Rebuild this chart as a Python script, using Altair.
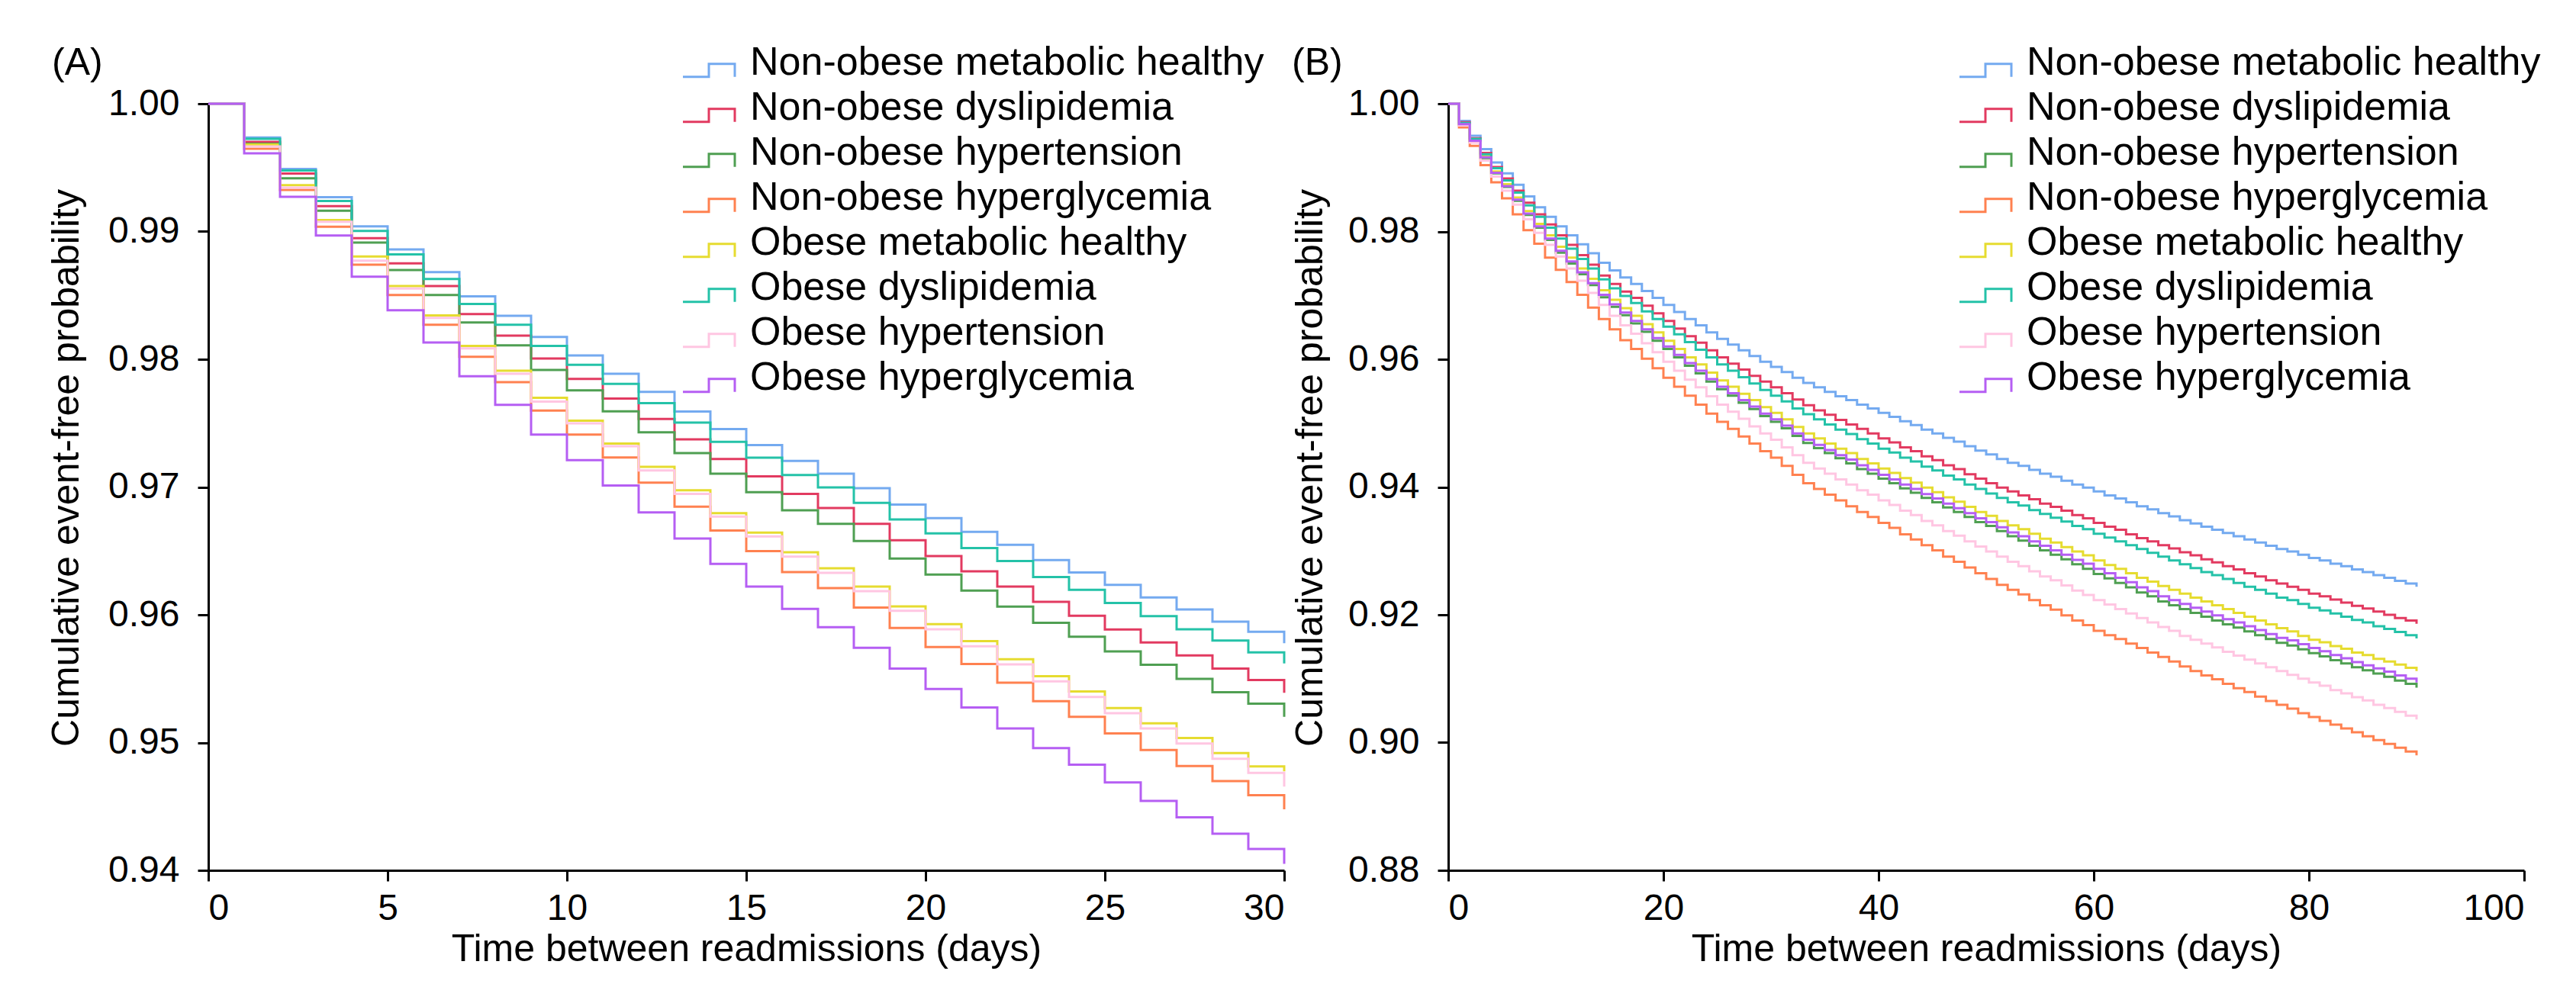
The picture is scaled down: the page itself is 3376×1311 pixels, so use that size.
import altair as alt
import pandas as pd

groups = [
    "Non-obese metabolic healthy",
    "Non-obese dyslipidemia",
    "Non-obese hypertension",
    "Non-obese hyperglycemia",
    "Obese metabolic healthy",
    "Obese dyslipidemia",
    "Obese hypertension",
    "Obese hyperglycemia",
]
colors = ["#74aaf0", "#e23a60", "#4f9f52", "#ff8150", "#e6dc30", "#24c2a8", "#ffc6e2", "#b55ef3"]

# ---------------- Panel A: 30-day follow-up (daily steps) ----------------
days_a = list(range(31))
a_nonobese_healthy = [1.0, 0.99736, 0.99490, 0.99268, 0.99040, 0.98859, 0.98682, 0.98493, 0.98340, 0.98175,
                      0.98030, 0.97887, 0.97745, 0.97591, 0.97454, 0.97329, 0.97204, 0.97104, 0.96991, 0.96862,
                      0.96756, 0.96650, 0.96548, 0.96428, 0.96331, 0.96235, 0.96136, 0.96042, 0.95947, 0.95867,
                      0.95778]
a_nonobese_dyslipidemia = [1.0, 0.99702, 0.99453, 0.99199, 0.98948, 0.98751, 0.98573, 0.98354, 0.98185, 0.98006,
                           0.97847, 0.97692, 0.97533, 0.97373, 0.97220, 0.97084, 0.96947, 0.96836, 0.96712, 0.96583,
                           0.96460, 0.96340, 0.96221, 0.96102, 0.95992, 0.95885, 0.95784, 0.95682, 0.95579, 0.95489,
                           0.95390]
a_nonobese_hypertension = [1.0, 0.99686, 0.99416, 0.99163, 0.98913, 0.98698, 0.98503, 0.98288, 0.98109, 0.97917,
                           0.97757, 0.97592, 0.97428, 0.97265, 0.97104, 0.96959, 0.96818, 0.96712, 0.96577, 0.96440,
                           0.96315, 0.96189, 0.96064, 0.95937, 0.95829, 0.95714, 0.95609, 0.95499, 0.95394, 0.95304,
                           0.95201]
a_nonobese_hyperglycemia = [1.0, 0.99648, 0.99326, 0.99038, 0.98741, 0.98503, 0.98270, 0.98020, 0.97821, 0.97598,
                            0.97410, 0.97231, 0.97035, 0.96846, 0.96659, 0.96498, 0.96335, 0.96209, 0.96056, 0.95897,
                            0.95748, 0.95615, 0.95469, 0.95324, 0.95201, 0.95072, 0.94942, 0.94817, 0.94698, 0.94588,
                            0.94477]
a_obese_healthy = [1.0, 0.99680, 0.99362, 0.99089, 0.98805, 0.98573, 0.98344, 0.98105, 0.97910, 0.97698,
                   0.97519, 0.97340, 0.97158, 0.96975, 0.96796, 0.96643, 0.96490, 0.96364, 0.96221, 0.96066,
                   0.95927, 0.95794, 0.95652, 0.95519, 0.95400, 0.95270, 0.95151, 0.95036, 0.94918, 0.94813,
                   0.94774]
a_obese_dyslipidemia = [1.0, 0.99726, 0.99477, 0.99239, 0.99004, 0.98821, 0.98628, 0.98433, 0.98270, 0.98105,
                        0.97956, 0.97807, 0.97657, 0.97504, 0.97353, 0.97230, 0.97094, 0.96997, 0.96876, 0.96746,
                        0.96637, 0.96523, 0.96421, 0.96295, 0.96195, 0.96092, 0.95990, 0.95887, 0.95798, 0.95706,
                        0.95619]
a_obese_hypertension = [1.0, 0.99666, 0.99344, 0.99076, 0.98771, 0.98553, 0.98324, 0.98085, 0.97887, 0.97668,
                        0.97499, 0.97320, 0.97130, 0.96947, 0.96768, 0.96613, 0.96455, 0.96328, 0.96185, 0.96032,
                        0.95887, 0.95754, 0.95612, 0.95479, 0.95356, 0.95230, 0.95111, 0.94992, 0.94873, 0.94763,
                        0.94655]
a_obese_hyperglycemia = [1.0, 0.99612, 0.99272, 0.98968, 0.98646, 0.98384, 0.98131, 0.97867, 0.97644, 0.97410,
                         0.97211, 0.97012, 0.96802, 0.96597, 0.96398, 0.96221, 0.96046, 0.95903, 0.95742, 0.95579,
                         0.95420, 0.95274, 0.95111, 0.94956, 0.94827, 0.94688, 0.94544, 0.94415, 0.94286, 0.94167,
                         0.94051]

# ---------------- Panel B: 90-day follow-up (daily steps) ----------------
days_b = list(range(91))
b_nonobese_healthy = [1.0000, .9973, .9950, .9929, .9908, .9891, .9873, .9855, .9838, .9823,
                      .9808, .9794, .9780, .9766, .9751, .9739, .9728, .9718, .9707, .9696,
                      .9685, .9674, .9663, .9653, .9642, .9632, .9623, .9614, .9605, .9596,
                      .9588, .9580, .9571, .9563, .9556, .9549, .9542, .9536, .9529, .9523,
                      .9516, .9510, .9503, .9497, .9490, .9484, .9477, .9471, .9464, .9457,
                      .9451, .9444, .9438, .9433, .9427, .9421, .9416, .9410, .9404, .9399,
                      .9393, .9387, .9382, .9376, .9370, .9365, .9359, .9354, .9348, .9343,
                      .9338, .9333, .9328, .9323, .9318, .9313, .9308, .9303, .9299, .9294,
                      .9289, .9285, .9280, .9276, .9271, .9267, .9262, .9258, .9253, .9249,
                      .9244]
b_nonobese_dyslipidemia = [1.0000, .9971, .9946, .9923, .9901, .9883, .9864, .9845, .9827, .9811,
                           .9794, .9779, .9763, .9748, .9731, .9718, .9706, .9696, .9684, .9672,
                           .9660, .9648, .9636, .9626, .9614, .9603, .9593, .9584, .9574, .9565,
                           .9556, .9547, .9537, .9528, .9520, .9513, .9505, .9498, .9491, .9484,
                           .9476, .9470, .9462, .9456, .9448, .9442, .9434, .9428, .9420, .9413,
                           .9406, .9399, .9393, .9387, .9381, .9374, .9369, .9363, .9356, .9351,
                           .9344, .9338, .9333, .9326, .9320, .9315, .9309, .9304, .9298, .9293,
                           .9287, .9282, .9276, .9271, .9265, .9260, .9254, .9249, .9244, .9239,
                           .9233, .9229, .9224, .9219, .9214, .9210, .9205, .9200, .9195, .9191,
                           .9186]
b_nonobese_hypertension = [1.0000, .9968, .9941, .9915, .9891, .9870, .9848, .9826, .9806, .9787,
                           .9767, .9750, .9733, .9716, .9697, .9682, .9669, .9656, .9643, .9629,
                           .9616, .9603, .9590, .9578, .9565, .9553, .9543, .9532, .9522, .9511,
                           .9502, .9492, .9480, .9469, .9461, .9453, .9445, .9437, .9428, .9421,
                           .9413, .9406, .9398, .9391, .9383, .9376, .9368, .9361, .9353, .9345,
                           .9339, .9331, .9323, .9316, .9308, .9301, .9294, .9287, .9279, .9272,
                           .9264, .9257, .9250, .9243, .9235, .9229, .9221, .9215, .9209, .9203,
                           .9197, .9191, .9185, .9180, .9174, .9168, .9162, .9156, .9152, .9146,
                           .9140, .9135, .9129, .9124, .9118, .9113, .9108, .9103, .9097, .9092,
                           .9086]
b_nonobese_hyperglycemia = [1.0000, .9963, .9934, .9904, .9877, .9852, .9827, .9802, .9781, .9759,
                            .9740, .9721, .9701, .9681, .9663, .9647, .9630, .9616, .9601, .9586,
                            .9571, .9557, .9543, .9529, .9515, .9502, .9491, .9479, .9468, .9456,
                            .9446, .9433, .9419, .9406, .9397, .9388, .9379, .9370, .9361, .9353,
                            .9344, .9336, .9326, .9318, .9309, .9301, .9291, .9283, .9274, .9265,
                            .9256, .9247, .9239, .9232, .9223, .9215, .9208, .9199, .9191, .9184,
                            .9175, .9168, .9162, .9155, .9148, .9141, .9134, .9127, .9119, .9112,
                            .9105, .9099, .9092, .9085, .9079, .9072, .9065, .9059, .9053, .9046,
                            .9040, .9034, .9028, .9022, .9016, .9010, .9004, .8998, .8992, .8986,
                            .8980]
b_obese_healthy = [1.0000, .9969, .9943, .9918, .9894, .9874, .9853, .9832, .9812, .9794,
                   .9776, .9759, .9742, .9726, .9708, .9693, .9680, .9668, .9655, .9642,
                   .9629, .9616, .9603, .9592, .9579, .9567, .9557, .9546, .9536, .9525,
                   .9516, .9506, .9494, .9484, .9476, .9468, .9460, .9453, .9444, .9437,
                   .9429, .9422, .9414, .9407, .9399, .9392, .9384, .9377, .9369, .9361,
                   .9355, .9347, .9340, .9334, .9327, .9319, .9313, .9306, .9299, .9293,
                   .9285, .9278, .9272, .9265, .9258, .9252, .9245, .9239, .9233, .9227,
                   .9221, .9215, .9209, .9203, .9197, .9191, .9185, .9179, .9174, .9167,
                   .9161, .9157, .9151, .9147, .9141, .9137, .9131, .9127, .9122, .9117,
                   .9112]
b_obese_dyslipidemia = [1.0000, .9970, .9945, .9921, .9899, .9880, .9861, .9841, .9823, .9806,
                        .9789, .9773, .9757, .9742, .9725, .9711, .9699, .9688, .9675, .9663,
                        .9651, .9639, .9627, .9615, .9603, .9592, .9582, .9572, .9562, .9552,
                        .9543, .9534, .9523, .9514, .9506, .9498, .9490, .9483, .9475, .9468,
                        .9460, .9454, .9446, .9440, .9432, .9426, .9418, .9412, .9404, .9397,
                        .9390, .9383, .9376, .9371, .9364, .9358, .9352, .9346, .9339, .9334,
                        .9327, .9321, .9315, .9309, .9303, .9297, .9291, .9285, .9279, .9273,
                        .9267, .9262, .9256, .9250, .9244, .9239, .9233, .9227, .9223, .9217,
                        .9211, .9207, .9202, .9197, .9192, .9188, .9182, .9178, .9173, .9168,
                        .9163]
b_obese_hypertension = [1.0000, .9966, .9939, .9911, .9886, .9864, .9842, .9819, .9798, .9779,
                        .9761, .9742, .9723, .9704, .9685, .9668, .9653, .9640, .9625, .9611,
                        .9596, .9582, .9568, .9556, .9542, .9529, .9518, .9507, .9495, .9484,
                        .9474, .9462, .9450, .9438, .9429, .9421, .9412, .9404, .9395, .9388,
                        .9379, .9372, .9363, .9356, .9347, .9340, .9331, .9324, .9315, .9307,
                        .9299, .9291, .9283, .9276, .9268, .9260, .9254, .9246, .9238, .9231,
                        .9223, .9216, .9209, .9202, .9195, .9188, .9181, .9175, .9167, .9161,
                        .9155, .9149, .9142, .9136, .9130, .9124, .9118, .9112, .9106, .9100,
                        .9094, .9089, .9082, .9077, .9071, .9066, .9059, .9054, .9048, .9042,
                        .9036]
b_obese_hyperglycemia = [1.0000, .9968, .9942, .9916, .9892, .9871, .9850, .9828, .9808, .9789,
                         .9770, .9753, .9736, .9719, .9701, .9686, .9673, .9660, .9647, .9633,
                         .9620, .9607, .9594, .9582, .9569, .9557, .9547, .9536, .9526, .9515,
                         .9506, .9496, .9484, .9474, .9466, .9458, .9450, .9443, .9434, .9427,
                         .9419, .9412, .9404, .9397, .9389, .9382, .9374, .9367, .9359, .9351,
                         .9345, .9337, .9329, .9323, .9315, .9308, .9301, .9294, .9286, .9280,
                         .9272, .9265, .9258, .9251, .9243, .9237, .9229, .9223, .9217, .9211,
                         .9205, .9199, .9193, .9188, .9182, .9176, .9170, .9164, .9160, .9154,
                         .9148, .9143, .9137, .9132, .9126, .9121, .9116, .9111, .9105, .9100,
                         .9094]

x_ticks_a = [0, 5, 10, 15, 20, 25, 30]
y_ticks_a = [0.94, 0.95, 0.96, 0.97, 0.98, 0.99, 1.00]
x_ticks_b = [0, 20, 40, 60, 80, 100]
y_ticks_b = [0.88, 0.90, 0.92, 0.94, 0.96, 0.98, 1.00]
x_title = "Time between readmissions (days)"
y_title = "Cumulative event-free probability"

series_a = [a_nonobese_healthy, a_nonobese_dyslipidemia, a_nonobese_hypertension, a_nonobese_hyperglycemia,
            a_obese_healthy, a_obese_dyslipidemia, a_obese_hypertension, a_obese_hyperglycemia]
series_b = [b_nonobese_healthy, b_nonobese_dyslipidemia, b_nonobese_hypertension, b_nonobese_hyperglycemia,
            b_obese_healthy, b_obese_dyslipidemia, b_obese_hypertension, b_obese_hyperglycemia]


def long_table(days, series):
    rows = []
    for gi, (g, vals) in enumerate(zip(groups, series)):
        for d, v in zip(days, vals):
            rows.append({"day": d, "prob": v, "group": g, "order": gi})
    return pd.DataFrame(rows)


df_a = long_table(days_a, series_a)
df_b = long_table(days_b, series_b)

FONT = "Liberation Sans"
W, H = 1410, 1005


def panel(df, xdom, xticks, ydom, yticks, letter, legend_x, title_x):
    color = alt.Color(
        "group:N",
        scale=alt.Scale(domain=groups, range=colors),
        sort=groups,
        legend=alt.Legend(
            orient="none", legendX=legend_x, legendY=-80,
            title=None, padding=0,
            symbolType="M-2,1.1H0V0.1H2V1.1", symbolSize=1156, symbolStrokeWidth=3,
            labelFont=FONT, labelFontSize=52, labelColor="black", labelLimit=3000,
            labelOffset=28, rowPadding=7,
        ),
    )
    lines = alt.Chart(df).mark_line(interpolate="step-after", strokeWidth=3).encode(
        x=alt.X("day:Q", scale=alt.Scale(domain=xdom, nice=False, zero=False),
                axis=alt.Axis(values=xticks, format="d", title=x_title,
                              labelBaseline="alphabetic", labelPadding=50,
                              titleBaseline="alphabetic", titleY=118)),
        y=alt.Y("prob:Q", scale=alt.Scale(domain=ydom, nice=False, zero=False),
                axis=alt.Axis(values=yticks, format=".2f", title=y_title, labelPadding=24,
                              titleAngle=270, titleBaseline="alphabetic", titleAlign="center",
                              titleX=title_x, titleY=477)),
        color=color,
        order="order:Q",
        detail="group:N",
    )
    lab = alt.Chart(pd.DataFrame({"t": [letter]})).mark_text(
        align="left", baseline="alphabetic", font=FONT, fontSize=50, color="black"
    ).encode(text="t:N", x=alt.value(-205), y=alt.value(-38))
    return alt.layer(lines, lab).properties(width=W, height=H)


pa = panel(df_a, [0, 30], x_ticks_a, [0.94, 1.0], y_ticks_a, "(A)", 630, -171)
pb = panel(df_b, [0, 100], x_ticks_b, [0.88, 1.0], y_ticks_b, "(B)", 678, -166)

chart = (
    alt.hconcat(pa, pb, spacing=215, bounds="flush")
    .resolve_scale(color="independent", x="independent", y="independent")
    .resolve_legend(color="independent")
    .properties(padding={"left": 53, "top": 48, "right": 5, "bottom": 5}, background="white")
    .configure_view(stroke=None)
    .configure_axis(
        domainColor="black", domainWidth=3, tickColor="black", tickWidth=3, tickSize=14,
        labelFont=FONT, labelFontSize=48, labelColor="black",
        titleFont=FONT, titleFontSize=50, titleFontWeight="normal", titleColor="black",
        grid=False,
    )
)

chart.save("out.html", embed_options={"renderer": "svg", "actions": False})
